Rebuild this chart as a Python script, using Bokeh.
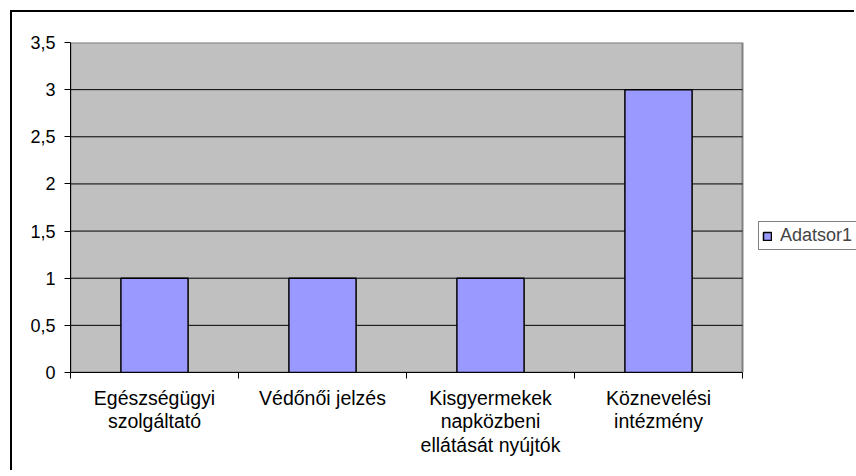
from bokeh.plotting import figure
from bokeh.models import Range1d, FixedTicker, Legend, LegendItem, ColumnDataSource
from bokeh.embed import file_html
from bokeh.resources import INLINE

categories = ["Egészségügyi\nszolgáltató", "Védőnői jelzés",
              "Kisgyermekek\nnapközbeni\nellátását nyújtók", "Köznevelési\nintézmény"]
values = [1, 1, 1, 3]
series_name = "Adatsor1"
y_ticks = [0, 0.5, 1, 1.5, 2, 2.5, 3, 3.5]
y_tick_labels = ["0", "0,5", "1", "1,5", "2", "2,5", "3", "3,5"]

FONT = "Liberation Sans"

n = len(categories)
xpos = [i + 0.5 for i in range(n)]
src = ColumnDataSource(dict(x=xpos, top=values))

# layout (pixels): plot area 672 px wide inside a frame that also spans the legend column
PLOT_W, FRAME_W = 672, 786
x_end = n * FRAME_W / PLOT_W

p = figure(width=844, height=460, x_range=Range1d(0, x_end), y_range=Range1d(y_ticks[0], y_ticks[-1]),
           output_backend="svg", toolbar_location=None,
           min_border_left=58, min_border_top=30, min_border_right=0, min_border_bottom=100)
p.styles = {"border-left": "2px solid black", "border-top": "2px solid black",
            "margin-left": "10px", "margin-top": "10px"}

p.background_fill_color = "white"
p.border_fill_color = "white"
p.outline_line_color = None
p.xgrid.visible = False
p.ygrid.visible = False

# grey plot area
p.quad(left=[0], right=[n], bottom=[y_ticks[0]], top=[y_ticks[-1]],
       fill_color="#C0C0C0", line_color="#808080", line_width=2)

# horizontal gridlines
grid_ticks = y_ticks[1:-1]
p.segment(x0=[0] * len(grid_ticks), x1=[n] * len(grid_ticks), y0=grid_ticks, y1=grid_ticks,
          line_color="black", line_width=1)

r = p.vbar(x="x", top="top", width=0.4, source=src, fill_color="#9999FF",
           line_color="black", line_width=1.5)

ya = p.yaxis[0]
ya.ticker = FixedTicker(ticks=y_ticks)
ya.major_label_overrides = {float(t): l for t, l in zip(y_ticks, y_tick_labels)}
ya.axis_line_color = "black"
ya.major_tick_line_color = "black"
ya.major_tick_out = 6
ya.major_tick_in = 0
ya.minor_tick_line_color = None
ya.major_label_standoff = 9
ya.major_label_text_font = FONT
ya.major_label_text_font_size = "18px"
ya.major_label_text_color = "black"

xa = p.xaxis[0]
xa.bounds = (0, n)
xa.ticker = FixedTicker(ticks=xpos, minor_ticks=list(range(n + 1)))
xa.major_label_overrides = {float(x): c for x, c in zip(xpos, categories)}
xa.axis_line_color = "black"
xa.major_tick_out = 0
xa.major_tick_in = 0
xa.major_tick_line_color = None
xa.minor_tick_out = 6
xa.minor_tick_in = 0
xa.minor_tick_line_color = "black"
xa.major_label_standoff = 8
xa.major_label_text_font = FONT
xa.major_label_text_font_size = "19.5px"
xa.major_label_text_line_height = 1.08
xa.major_label_text_color = "black"
xa.major_label_text_align = "center"

legend = Legend(items=[LegendItem(label=series_name, renderers=[r])],
                location=(688, 122), border_line_color="black", border_line_width=1,
                background_fill_color="white", background_fill_alpha=1,
                label_text_font=FONT, label_text_font_size="18px",
                glyph_width=10, glyph_height=10, padding=3, spacing=0,
                label_standoff=8, label_width=110, margin=0)
p.add_layout(legend, "center")

open("out.html", "w").write(file_html(p, INLINE))
